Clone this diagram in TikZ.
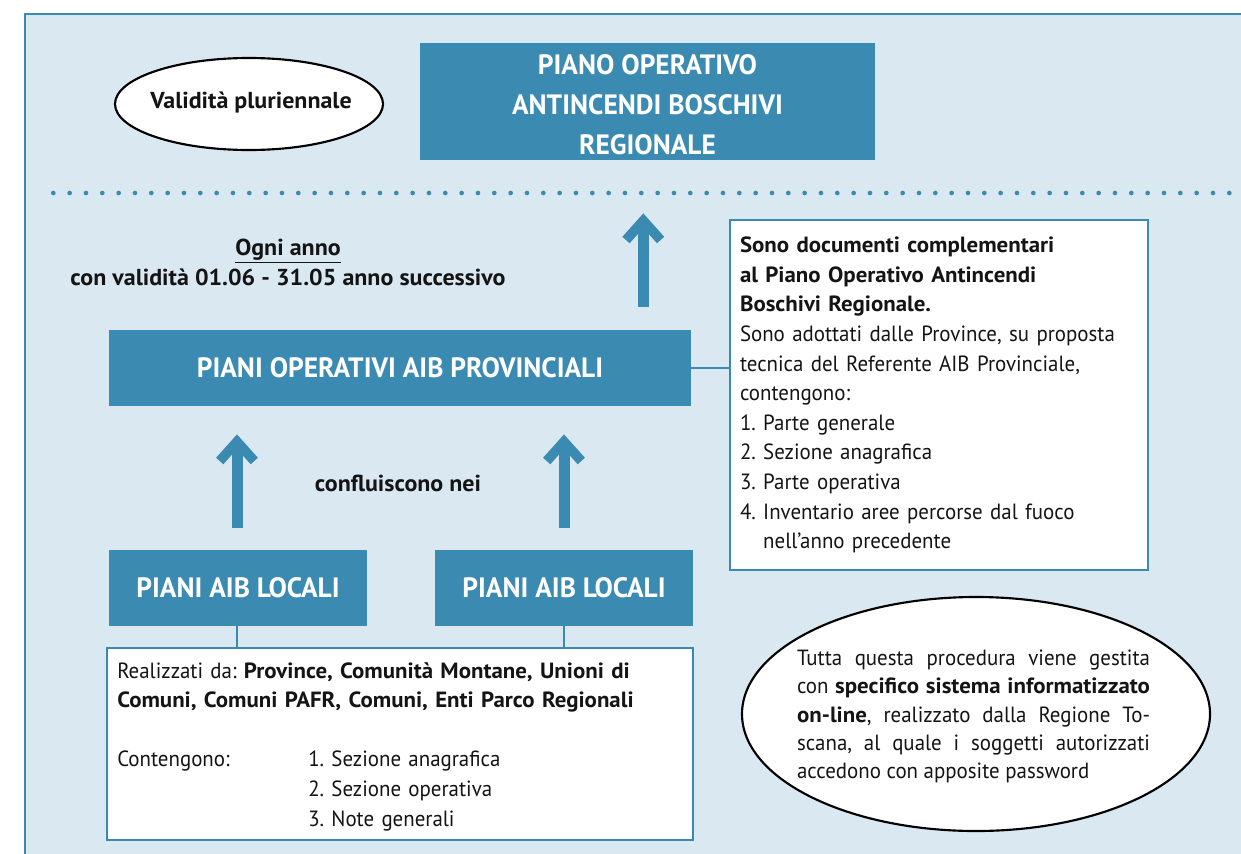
\documentclass[tikz,border=0pt]{standalone}
\usepackage{fontspec}
\setmainfont{PT Sans}[UprightFeatures={FakeStretch=0.95},BoldFeatures={FakeStretch=1.04}]
\newfontfamily\capsfont{PT Sans}[FakeStretch=0.98]
\frenchspacing
\usetikzlibrary{shapes.geometric,calc}
\definecolor{aib}{RGB}{58,138,178}
\definecolor{bgl}{RGB}{218,232,241}
\definecolor{ink}{RGB}{20,20,20}
\begin{document}
\begin{tikzpicture}[x=0.75pt,y=-0.75pt,
  bluebox/.style={fill=aib,draw=none,text=white,inner sep=0pt,align=center,
    font=\capsfont\fontsize{21}{30}\selectfont\bfseries},
  whitebox/.style={fill=white,draw=aib,line width=2pt,inner sep=0pt},
  oval/.style={ellipse,fill=white,draw=black,line width=1.6pt,inner sep=0pt},
  body/.style={text=ink,inner sep=0pt,font=\fontsize{16.5}{22.2}\selectfont},
  label/.style={text=ink,inner sep=0pt,align=center,font=\fontsize{17.3}{22.5}\selectfont\bfseries},
  link/.style={draw=aib,line width=1.6pt},
  shaft/.style={draw=aib,line width=8.25pt},
  barb/.style={draw=aib,line width=7.3pt,line join=miter,line cap=butt}
]
\useasboundingbox (0,0) rectangle (1241,853);
\clip (0,0) rectangle (1241,853);
% panel
\draw[fill=bgl,draw=aib,line width=2pt] (25,14) rectangle (1270,890);
% dotted separator
\draw[aib,line width=3.5pt,line cap=round,dash pattern=on 0pt off 12.25pt] (53.3,193) -- (1260,193);

% top
\node[bluebox,minimum width=341.25pt,minimum height=87.75pt] (top) at (647.5,101.5) {};
\node[bluebox] (topt) at (647.5,104.5) {PIANO OPERATIVO\\ANTINCENDI BOSCHIVI\\REGIONALE};
\node[oval,minimum width=201pt,minimum height=69pt] (val) at (249,104) {};
\node[label] (valt) at (251,103) {Validità pluriennale};

% annual label
\node[label] (ogni) at (288,262) {\underline{Ogni anno}\\con validità 01.06 - 31.05 anno successivo};

% provincial
\node[bluebox,minimum width=436.5pt,minimum height=57pt] (mid) at (400,368) {PIANI OPERATIVI AIB PROVINCIALI};

% right text box
\node[whitebox,body,minimum width=313.5pt,minimum height=262.5pt,text width=298.5pt,align=left] (rt) at (939,395)
  {\textbf{Sono documenti complementari}\\
   \textbf{al Piano Operativo Antincendi}\\
   \textbf{Boschivi Regionale.}\\
   Sono adottati dalle Province, su proposta\\
   tecnica del Referente AIB Provinciale,\\
   contengono:\\
   1. Parte generale\\
   2. Sezione anagrafica\\
   3. Parte operativa\\
   4. Inventario aree percorse dal fuoco\\
   \hphantom{4. }nell’anno precedente};
\draw[link] (mid.east) -- (mid.east -| rt.west);

% locals
\node[bluebox,minimum width=193.5pt,minimum height=57pt] (loc1) at (238,588) {PIANI AIB LOCALI};
\node[bluebox,minimum width=193.5pt,minimum height=57pt] (loc2) at (564,588) {PIANI AIB LOCALI};
\node[label] (confl) at (398,483) {confluiscono nei};

% bottom box
\node[whitebox,minimum width=439.5pt,minimum height=144pt] (bot) at (400,744) {};
\node[body,anchor=west,text width=432pt,align=left] (bott) at (117,746.5)
  {Realizzati da: \textbf{Province, Comunità Montane, Unioni di}\\
   \textbf{Comuni, Comuni PAFR, Comuni, Enti Parco Regionali}\\[22.2pt]
   \makebox[143.25pt][l]{Contengono:}1. Sezione anagrafica\\
   \hspace*{143.25pt}2. Sezione operativa\\
   \hspace*{143.25pt}3. Note generali};
\draw[link] (237,626) coordinate (l1a) -- (l1a |- bot.north);
\draw[link] (564,626) coordinate (l2a) -- (l2a |- bot.north);

% bottom-right ellipse
\node[oval,minimum width=351pt,minimum height=175.5pt] (sys) at (976,714) {};
\node[body,text width=264.75pt,align=justify,font=\fontsize{16.5}{21.2}\selectfont] (syst) at (973.5,716.5)
  {Tutta questa procedura viene gestita\linebreak
   con \textbf{specifico sistema informatizzato}\linebreak
   \textbf{on-line}, realizzato dalla Regione To-\linebreak
   scana, al quale i soggetti autorizzati\linebreak
   accedono con apposite password\par};

% arrows
\coordinate (a1t) at (643.3,214); \coordinate (a1b) at (643.3,307);
\coordinate (a2t) at (237,435);   \coordinate (a2b) at (237,528);
\coordinate (a3t) at (564,435);   \coordinate (a3b) at (564,528);
\foreach \a in {a1,a2,a3}{
  \draw[shaft] (\a b) -- ($(\a t)+(0,8)$);
  \draw[barb] ($(\a t)+(-17.3,26)$) -- ($(\a t)+(0,6.7)$) -- ($(\a t)+(17.3,26)$);
}
\end{tikzpicture}
\end{document}
